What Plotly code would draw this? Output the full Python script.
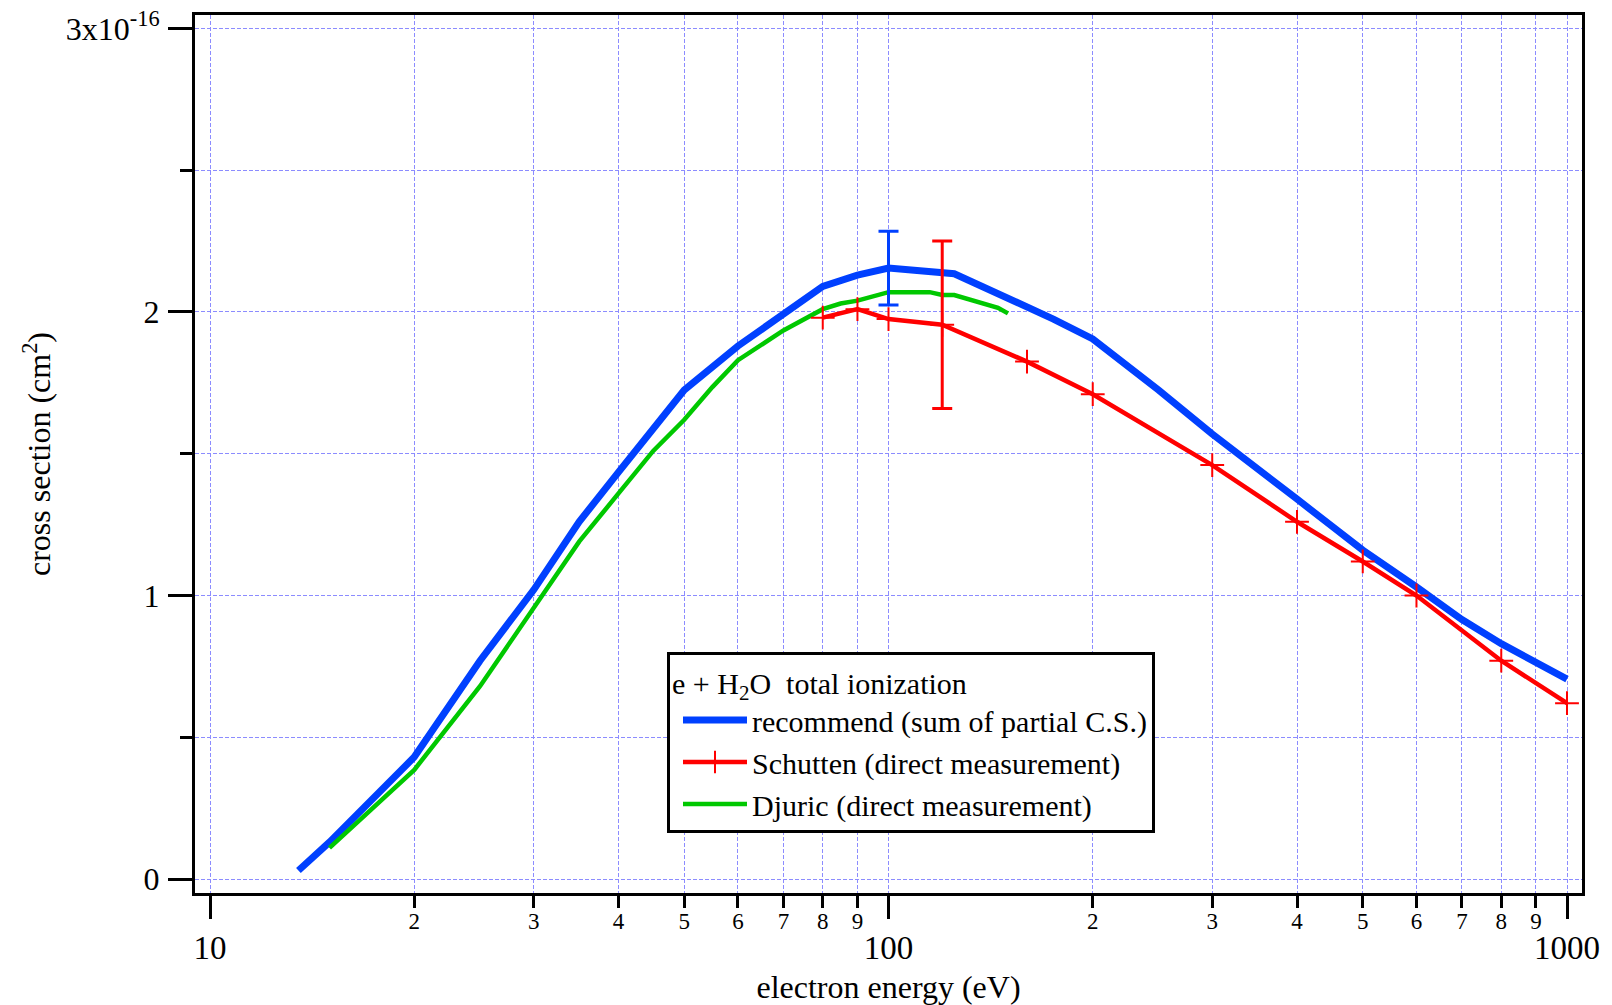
import plotly.graph_objects as go

# ---------------- data (cross section in units of 1e-16 cm^2) ----------------
rec_energy = [13.5, 15, 20, 22.5, 25, 30, 35, 40, 45, 50, 60, 70, 80, 90, 100,
              125, 150, 175, 200, 250, 300, 350, 400, 450, 500, 600, 700, 800, 900, 1000]
rec_sigma = [0.03, 0.13, 0.43, 0.61, 0.77, 1.02, 1.26, 1.435, 1.59, 1.725, 1.88, 1.99, 2.09, 2.13, 2.155,
             2.135, 2.05, 1.975, 1.905, 1.725, 1.57, 1.45, 1.34, 1.245, 1.16, 1.03, 0.915, 0.83, 0.765, 0.705]

sch_energy = [80, 90, 100, 120, 160, 200, 300, 400, 500, 600, 800, 1000]
sch_sigma = [1.98, 2.01, 1.975, 1.955, 1.825, 1.71, 1.46, 1.26, 1.12, 1.0, 0.77, 0.62]

dju_energy = [15, 20, 25, 30, 35, 40, 45, 50, 55, 60, 70, 80, 85, 90, 95, 100,
              115, 120, 125, 140, 145, 150]
dju_sigma = [0.11, 0.385, 0.68, 0.96, 1.19, 1.36, 1.51, 1.62, 1.735, 1.83, 1.935, 2.01, 2.03, 2.04, 2.055, 2.07,
             2.07, 2.06, 2.06, 2.025, 2.015, 1.995]

rec_err_energy = [100]
rec_err = [0.13]
sch_err_energy = [120]
sch_err = [0.295]

major_x = [10, 100, 1000]
major_x_text = ["10", "100", "1000"]
minor_x = [m * d for d in (10, 100) for m in range(2, 10)]
minor_x_text = [str(m) for d in (10, 100) for m in range(2, 10)]
major_y = [0, 1, 2, 3]
major_y_text = ["0", "1", "2", "3x10<sup>-16</sup>"]
minor_y = [0.5, 1.5, 2.5]

legend_title = "e + H<sub>2</sub>O  total ionization"
names = ["recommend (sum of partial C.S.)", "Schutten (direct measurement)", "Djuric (direct measurement)"]

BLUE = "#0040ff"
RED = "#ff0000"
GREEN = "#00c800"
GRID = "#8c8cff"
FONT = "Liberation Serif"

fig = go.Figure()

fig.add_trace(go.Scatter(x=rec_energy, y=rec_sigma, mode="lines", name=names[0],
                         line=dict(color=BLUE, width=7), legendrank=1))
fig.add_trace(go.Scatter(x=dju_energy, y=dju_sigma, mode="lines", name=names[2],
                         line=dict(color=GREEN, width=4.5), legendrank=3))
fig.add_trace(go.Scatter(x=sch_energy, y=sch_sigma, mode="lines+markers", name=names[1],
                         line=dict(color=RED, width=4.5),
                         marker=dict(symbol="cross-thin", size=17, line=dict(color=RED, width=2)),
                         legendrank=2))

# error bars, centred on the series values
rec_err_y = [rec_sigma[rec_energy.index(e)] for e in rec_err_energy]
sch_err_y = [sch_sigma[sch_energy.index(e)] for e in sch_err_energy]
fig.add_trace(go.Scatter(x=rec_err_energy, y=rec_err_y, mode="lines", showlegend=False,
                         line=dict(color=BLUE, width=0),
                         error_y=dict(type="data", array=rec_err, color=BLUE, thickness=3, width=10)))
fig.add_trace(go.Scatter(x=sch_err_energy, y=sch_err_y, mode="lines", showlegend=False,
                         line=dict(color=RED, width=0),
                         error_y=dict(type="data", array=sch_err, color=RED, thickness=3, width=10)))

# invisible helper trace for the minor-label axis
fig.add_trace(go.Scatter(x=[10], y=[0], xaxis="x2", mode="markers", marker=dict(opacity=0),
                         showlegend=False, hoverinfo="skip"))

xr = [0.97789, 3.02211]
fig.update_layout(
    width=1612, height=1005,
    margin=dict(l=195, r=30, t=15, b=112, autoexpand=False),
    paper_bgcolor="white", plot_bgcolor="white",
    font=dict(family=FONT, color="black", size=30),
    showlegend=True,
    legend=dict(x=0.3403, y=0.2745, xanchor="left", yanchor="top",
                bgcolor="white", bordercolor="black", borderwidth=3,
                font=dict(family=FONT, size=30, color="black"),
                title=dict(text=legend_title, font=dict(family=FONT, size=30)),
                itemwidth=64, indentation=8, tracegroupgap=0),
    xaxis=dict(type="log", range=xr, automargin=False,
               tickmode="array", tickvals=major_x, ticktext=major_x_text,
               ticks="outside", ticklen=23, tickwidth=3, tickcolor="black",
               tickfont=dict(family=FONT, size=33), ticklabelstandoff=0,
               showline=True, linewidth=3, linecolor="black", mirror=True,
               showgrid=True, gridcolor=GRID, gridwidth=1, griddash="4px,2px",
               zeroline=False,
               minor=dict(tickmode="array", tickvals=minor_x, ticks="outside", ticklen=12,
                          tickwidth=3, tickcolor="black", showgrid=True, gridcolor=GRID,
                          gridwidth=1, griddash="4px,2px"),
               title=dict(text="electron energy (eV)", font=dict(family=FONT, size=32), standoff=14)),
    xaxis2=dict(type="log", range=xr, overlaying="x", anchor="y", side="bottom", automargin=False,
                tickmode="array", tickvals=minor_x, ticktext=minor_x_text,
                ticks="", showline=False, showgrid=False, zeroline=False,
                tickfont=dict(family=FONT, size=23), ticklabelstandoff=12),
    yaxis=dict(range=[-0.0494, 3.0476], automargin=False,
               tickmode="array", tickvals=major_y, ticktext=major_y_text,
               ticks="outside", ticklen=24, tickwidth=3, tickcolor="black",
               tickfont=dict(family=FONT, size=32), ticklabelstandoff=2,
               showline=True, linewidth=3, linecolor="black", mirror=True,
               showgrid=True, gridcolor=GRID, gridwidth=1, griddash="4px,2px",
               zeroline=False,
               minor=dict(tickmode="array", tickvals=minor_y, ticks="outside", ticklen=12,
                          tickwidth=3, tickcolor="black", showgrid=True, gridcolor=GRID,
                          gridwidth=1, griddash="4px,2px"),
               title=dict(text="cross section (cm<sup>2</sup>)", font=dict(family=FONT, size=32), standoff=6)),
)

fig.write_html("out.html")
